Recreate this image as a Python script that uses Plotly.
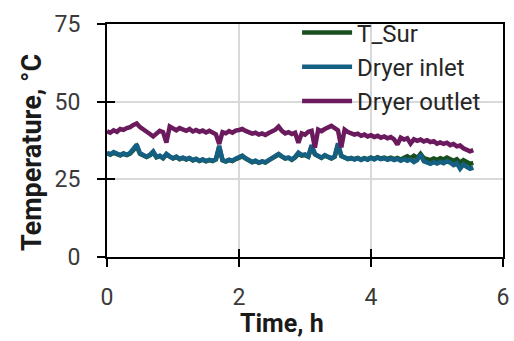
import plotly.graph_objects as go

# Logged temperatures, sampled every 0.05 h
TIME_STEP_H = 0.05

t_sur = [
    33.4, 33.0, 33.5, 33.1, 32.7, 33.2, 32.8, 33.3, 34.6, 35.6,
    33.2, 32.7, 32.2, 32.7, 33.6, 32.1, 32.5, 31.8, 33.0, 32.3,
    31.7, 32.2, 31.5, 31.9, 31.4, 31.8, 31.1, 31.5, 30.9, 31.3,
    30.8, 31.2, 30.9, 31.4, 35.2, 31.1, 30.7, 31.2, 30.9, 31.5,
    32.0, 32.4, 31.7, 31.1, 30.5, 30.9, 30.3, 30.7, 30.4, 31.1,
    31.8, 32.6, 33.0, 32.3, 31.7, 31.9, 31.3, 32.0, 33.2, 32.6,
    32.8, 32.3, 35.5, 33.0, 32.5, 31.9, 32.6, 32.2, 31.7, 32.3,
    36.0, 32.5, 31.9, 31.6, 31.8, 31.5, 31.9, 31.4, 31.8, 31.5,
    32.0, 31.6, 32.1, 31.7, 32.0, 31.6, 32.0, 31.5, 31.9, 31.4,
    31.9, 32.4, 31.8, 32.6, 31.9, 33.2, 31.8, 31.5, 31.2, 31.7,
    31.3, 31.8, 31.4, 32.0, 31.6, 31.0, 31.5, 30.4, 31.2, 30.6,
    30.0, 30.3,
]

dryer_inlet = [
    33.6, 33.0, 33.8, 33.2, 32.8, 33.4, 32.9, 33.5, 35.0, 36.2,
    33.4, 32.8, 32.3, 32.9, 34.0, 32.2, 32.6, 31.9, 33.2, 32.4,
    31.8, 32.3, 31.6, 32.0, 31.5, 31.9, 31.2, 31.6, 31.0, 31.4,
    30.9, 31.3, 31.0, 31.5, 35.8, 31.2, 30.8, 31.3, 31.0, 31.6,
    32.2, 32.6, 31.8, 31.2, 30.6, 31.0, 30.4, 30.8, 30.5, 31.2,
    32.0, 32.8, 33.2, 32.4, 31.8, 32.0, 31.4, 32.2, 33.6, 32.8,
    33.0, 32.4, 36.0, 33.2, 32.6, 32.0, 32.8, 32.3, 31.8, 32.4,
    36.6, 32.6, 32.0, 31.5, 31.9, 31.4, 31.8, 31.2, 31.7, 31.3,
    31.9, 31.4, 32.0, 31.5, 31.8, 31.3, 31.7, 31.2, 31.6, 31.0,
    31.5, 31.0, 31.4, 30.6, 31.2, 33.0, 30.8, 30.3, 30.0, 30.5,
    30.1, 30.6, 30.2, 30.8, 30.4, 29.6, 30.2, 28.4, 29.8, 29.0,
    28.4, 28.8,
]

dryer_outlet = [
    40.5, 40.0, 40.8, 40.3, 41.2, 40.9, 41.5, 41.8, 42.5, 43.0,
    41.8, 41.2, 40.4, 39.6, 38.8, 39.8, 40.6, 40.2, 36.8, 42.0,
    41.3, 40.8, 41.5, 41.0, 40.6, 41.2, 40.4, 40.9, 40.3, 40.7,
    40.1, 40.6, 40.0, 39.5, 36.4, 40.2, 39.8, 40.5, 40.0, 40.7,
    40.9, 41.2, 40.6, 40.2, 39.7, 40.0, 39.4, 39.8, 39.3, 39.9,
    40.3, 41.0, 42.0, 40.6, 39.8, 40.2, 39.6, 40.0, 36.8, 39.8,
    39.4, 40.3, 40.6, 35.2, 41.0, 40.5, 41.2, 41.8, 42.2, 41.5,
    40.8, 35.3, 41.0, 40.2, 39.8, 39.4, 39.7, 39.0, 39.4, 38.8,
    39.2, 38.6, 39.0, 38.4, 38.8, 38.2, 38.6, 37.9, 36.2, 38.4,
    37.8, 38.2, 36.5, 37.9, 37.4, 37.8, 37.2, 37.6, 37.0, 37.3,
    36.5, 36.9, 36.4, 36.8, 36.0, 36.4, 35.6, 35.9, 35.0, 34.6,
    34.0, 34.4,
]

time_h = [round(i * TIME_STEP_H, 2) for i in range(len(dryer_outlet))]

series = [
    ("T_Sur", t_sur, "#17501e"),
    ("Dryer inlet", dryer_inlet, "#156082"),
    ("Dryer outlet", dryer_outlet, "#6b1a5e"),
]

x_ticks = [0, 2, 4, 6]
y_ticks = [0, 25, 50, 75]

fig = go.Figure()
for name, values, color in series:
    fig.add_trace(go.Scatter(
        x=time_h, y=values, name=name, mode="lines",
        line=dict(color=color, width=4.5),
    ))

# empty trace so the overlay axes (inner tick halves) get drawn
fig.add_trace(go.Scatter(x=[None], y=[None], xaxis="x2", yaxis="y2",
                         showlegend=False, hoverinfo="skip"))

tick_font = dict(family="Roboto", size=23, color="#3a3a3a")

fig.update_layout(
    width=514, height=341,
    margin=dict(l=107, r=11, t=18, b=84),
    paper_bgcolor="white", plot_bgcolor="white",
    showlegend=True,
    legend=dict(
        x=0.48, y=1.058, xanchor="left", yanchor="top",
        bgcolor="rgba(0,0,0,0)", itemwidth=50,
        font=dict(family="Roboto", size=24, color="#262626"),
        tracegroupgap=0,
    ),
    xaxis=dict(
        range=[0, 6], tickvals=x_ticks, ticks="outside", ticklen=8,
        tickwidth=2, tickcolor="black", automargin=False,
        ticklabelstandoff=10,
        showline=True, linecolor="black", linewidth=2, mirror=True,
        showgrid=True, gridcolor="#d9d9d9", gridwidth=1.5,
        zeroline=False, tickfont=tick_font,
    ),
    yaxis=dict(
        range=[0, 75], tickvals=y_ticks, ticks="outside", ticklen=8,
        tickwidth=2, tickcolor="black", automargin=False,
        ticklabelstandoff=12,
        showline=True, linecolor="black", linewidth=2, mirror=True,
        showgrid=True, gridcolor="#d9d9d9", gridwidth=1.5,
        zeroline=False, tickfont=tick_font,
    ),
    xaxis2=dict(
        overlaying="x", range=[0, 6], tickvals=x_ticks, ticks="inside",
        ticklen=8, tickwidth=2, tickcolor="black", showticklabels=False,
        showgrid=False, zeroline=False, showline=False, anchor="y2",
        automargin=False,
    ),
    yaxis2=dict(
        overlaying="y", range=[0, 75], tickvals=y_ticks, ticks="inside",
        ticklen=8, tickwidth=2, tickcolor="black", showticklabels=False,
        showgrid=False, zeroline=False, showline=False, anchor="x2",
        automargin=False,
    ),
    annotations=[
        dict(text="<b>Time, h</b>", xref="paper", yref="paper",
             x=0.442, y=-0.285, xanchor="center", yanchor="middle",
             showarrow=False,
             font=dict(family="Roboto", size=25, color="#1a1a1a")),
        dict(text="<b>Temperature, °C</b>", xref="paper", yref="paper",
             x=-0.19, y=0.45, xanchor="center", yanchor="middle",
             textangle=-90, showarrow=False,
             font=dict(family="Roboto", size=27, color="#1a1a1a")),
    ],
)

fig.write_html("out.html")
